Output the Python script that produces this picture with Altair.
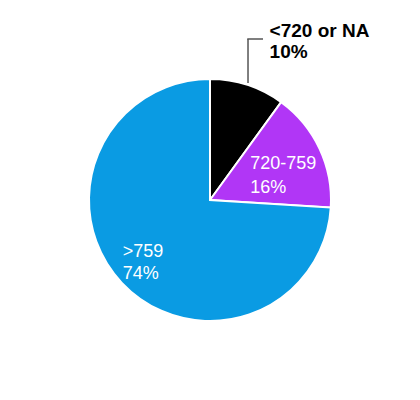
import math
import altair as alt
import pandas as pd

categories = ["<720 or NA", "720-759", ">759"]
values = [10, 16, 74]
colors = ["#000000", "#B136F6", "#0A9BE3"]

total = sum(values)
starts, ends = [], []
acc = 0
for v in values:
    starts.append(acc / total * 100)
    acc += v
    ends.append(acc / total * 100)
mids = [(s + e) / 2 for s, e in zip(starts, ends)]

df = pd.DataFrame({
    "category": categories,
    "value": values,
    "start": starts,
    "end": ends,
    "mid": mids,
    "label": [f"{c}\n{v}%" for c, v in zip(categories, values)],
})

W, H = 404, 384
CX, CY = W / 2, H / 2
R = 121

theta_scale = alt.Scale(domain=[0, 100], range=[0, 2 * math.pi])
color_scale = alt.Scale(domain=categories, range=colors)

base = alt.Chart(df)

arcs = base.mark_arc(outerRadius=R, stroke="white", strokeWidth=2).encode(
    theta=alt.Theta("start:Q", scale=theta_scale),
    theta2="end:Q",
    color=alt.Color("category:N", scale=color_scale, legend=None),
)


def label_layer(cat, radius, dx, dy, color, weight, lh, fs=18):
    return base.transform_filter(alt.datum.category == cat).mark_text(
        align="left", baseline="middle", lineBreak="\n", lineHeight=lh,
        font="Liberation Sans", fontSize=fs, fontWeight=weight,
        color=color, radius=radius, dx=dx, dy=dy,
    ).encode(
        theta=alt.Theta("mid:Q", scale=theta_scale),
        text="label:N",
    )


lbl_black = label_layer("<720 or NA", 167, 8, -10, "#000000", "bold", 21, 19)
lbl_purple = label_layer("720-759", 50, -5, -15, "white", "normal", 24)
lbl_blue = label_layer(">759", 95, -18, -13, "white", "normal", 22)

# leader line from the black slice to its outside label
ang = mids[0] / 100 * 2 * math.pi
lx = CX + (R + 2) * math.sin(ang)
ly0 = CY - (R + 2) * math.cos(ang)
ly1 = 31
lead_v = base.transform_filter(alt.datum.category == categories[0]).mark_rule(
    color="#555555", strokeWidth=1.5).encode(
    x=alt.value(lx), y=alt.value(ly0), y2=alt.value(ly1))
lead_h = base.transform_filter(alt.datum.category == categories[0]).mark_rule(
    color="#555555", strokeWidth=1.5).encode(
    x=alt.value(lx - 0.75), x2=alt.value(lx + 15), y=alt.value(ly1))

chart = alt.layer(arcs, lead_v, lead_h, lbl_black, lbl_purple, lbl_blue).properties(
    width=W, height=H, padding=0,
    autosize=alt.AutoSizeParams(type="fit", contains="padding"),
).configure_view(stroke=None)

chart.save("out.html", embed_options={"renderer": "svg", "actions": False})
